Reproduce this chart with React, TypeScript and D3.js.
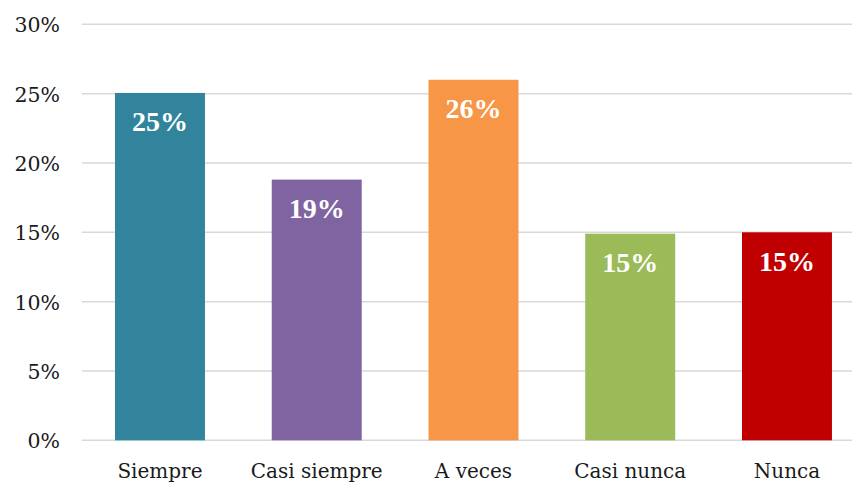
import React from "react";
import * as d3 from "d3";

const categories = ["Siempre", "Casi siempre", "A veces", "Casi nunca", "Nunca"];
const values = [25.05, 18.8, 26.0, 14.9, 15.0];
const colors = ["#31849b", "#8064a2", "#f79646", "#9bbb59", "#c00000"];
const yTicks = [0, 5, 10, 15, 20, 25, 30];

const W = 852;
const H = 483;

export default function App() {
  const x = d3
    .scaleBand<string>()
    .domain(categories)
    .range([81.6, 81.6 + 5 * 156.75])
    .paddingInner(0.426)
    .paddingOuter(0.213);
  const y = d3.scaleLinear().domain([0, 30]).range([440.3, 24.3]);
  const bw = x.bandwidth();

  return (
    <svg
      width={W}
      height={H}
      style={{ position: "absolute", left: 0, top: 0, background: "#fff" }}
    >
      {yTicks.map((t) => (
        <g key={t}>
          <line x1={82} x2={W} y1={y(t)} y2={y(t)} stroke="#d9d9d9" strokeWidth={1.5} />
          <text
            x={60}
            y={y(t) + 8}
            textAnchor="end"
            fontFamily="'DejaVu Serif', serif"
            fontSize={20.5}
            fill="#1a1a1a"
          >
            {t}%
          </text>
        </g>
      ))}
      {categories.map((c, i) => {
        const x0 = x(c)!;
        const top = y(values[i]);
        return (
          <g key={c}>
            <rect x={x0} y={top} width={bw} height={y(0) - top} fill={colors[i]} />
            <text
              x={x0 + bw / 2}
              y={top + 38.5}
              textAnchor="middle"
              fontFamily="'Liberation Serif', serif"
              fontWeight="bold"
              fontSize={28}
              fill="#ffffff"
            >
              {Math.round(values[i])}%
            </text>
            <text
              x={x0 + bw / 2}
              y={478}
              textAnchor="middle"
              fontFamily="'DejaVu Serif', serif"
              fontSize={20}
              fill="#1a1a1a"
            >
              {c}
            </text>
          </g>
        );
      })}
    </svg>
  );
}
